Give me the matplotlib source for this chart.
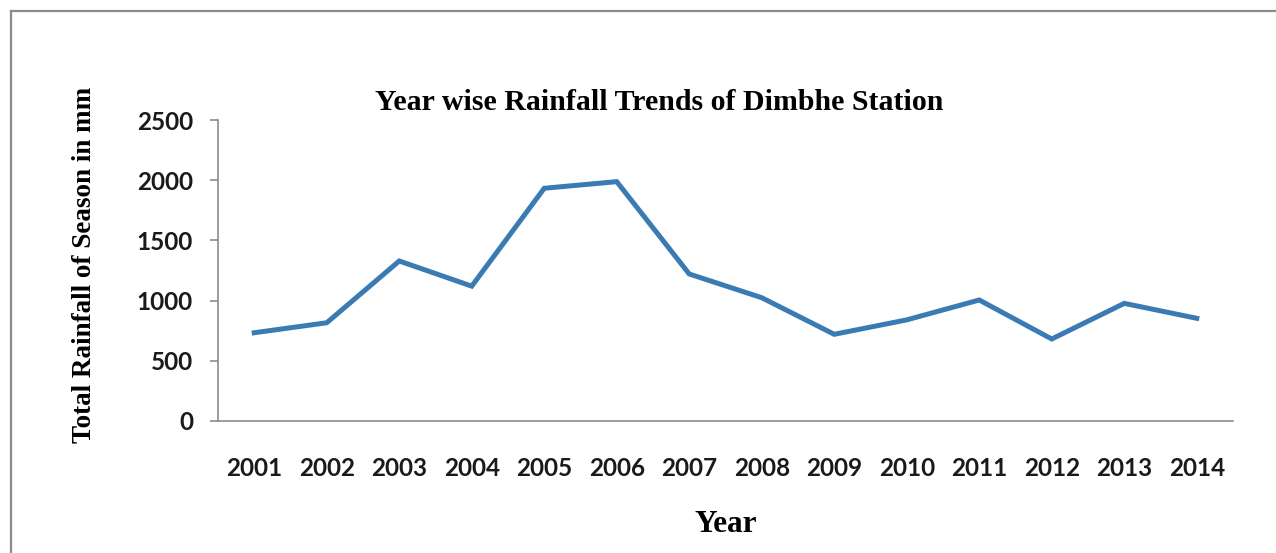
import matplotlib
matplotlib.use('Agg')
import matplotlib.pyplot as plt
from matplotlib.lines import Line2D

years = ['2001', '2002', '2003', '2004', '2005', '2006', '2007',
         '2008', '2009', '2010', '2011', '2012', '2013', '2014']
rainfall = [733, 816, 1329, 1120, 1933, 1988, 1221,
            1024, 720, 840, 1005, 681, 977, 853]
y_ticks = [0, 500, 1000, 1500, 2000, 2500]

W, H = 1276, 553
fig = plt.figure(figsize=(W / 100, H / 100), dpi=100)

# outer chart frame (right and bottom edges fall outside the image)
frame_kw = dict(color='#8c8c8c', linewidth=1.6, transform=fig.transFigure)
fig.add_artist(Line2D([10.5 / W, 10.5 / W], [0, 1 - 10.5 / H], **frame_kw))
fig.add_artist(Line2D([10.5 / W, 1], [1 - 10.5 / H, 1 - 10.5 / H], **frame_kw))

ax = fig.add_axes([218 / W, 132 / H, 1015 / W, 301 / H])
x = list(range(1, len(years) + 1))
ax.plot(x, rainfall, color='#3a7bb3', linewidth=3.6, solid_joinstyle='miter')

ax.set_xlim(0.5, len(years) + 0.5)
ax.set_ylim(0, 2500)
ax.set_xticks(x)
ax.set_xticklabels(years)
ax.set_yticks(y_ticks)

for side in ['top', 'right']:
    ax.spines[side].set_visible(False)
for side in ['left', 'bottom']:
    ax.spines[side].set_color('#8c8c8c')
    ax.spines[side].set_linewidth(1.2)

ax.tick_params(axis='y', direction='out', length=6, width=1.2, color='#8c8c8c', pad=12)
ax.tick_params(axis='x', length=0, pad=26)
for lab in ax.get_xticklabels() + ax.get_yticklabels():
    lab.set_fontfamily('Lato')
    lab.set_fontweight('bold')
    lab.set_fontsize(17.5)
    lab.set_color('#1a1a1a')

serif = 'Liberation Serif'
fig.text(659 / W, 1 - 102 / H, 'Year wise Rainfall Trends of Dimbhe Station',
         family=serif, weight='bold', fontsize=21.5, ha='center', va='center')
fig.text(85 / W, 1 - 265 / H, 'Total Rainfall of Season in mm',
         family=serif, weight='bold', fontsize=19.5, rotation=90,
         ha='center', va='center')
fig.text(726 / W, 1 - 524 / H, 'Year',
         family=serif, weight='bold', fontsize=22.5, ha='center', va='center')

fig.savefig('out.png', dpi=100)
